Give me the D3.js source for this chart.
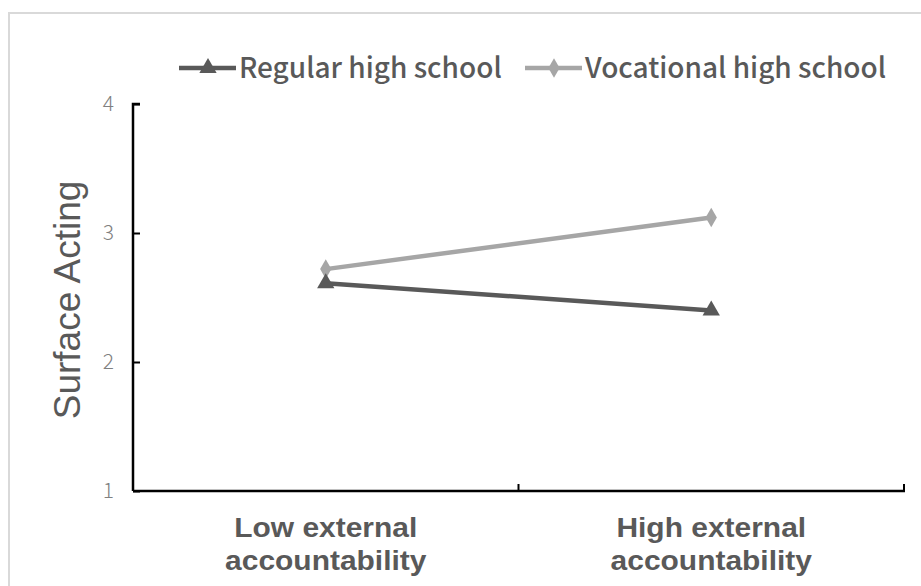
<!DOCTYPE html>
<html><head><meta charset="utf-8">
<script src="https://cdn.jsdelivr.net/npm/d3@7"></script>
<style>body{margin:0;background:#fff}svg{display:block}</style>
</head><body>
<script>
const categories = [["Low external","accountability"],["High external","accountability"]];
const seriesNames = ["Regular high school","Vocational high school"];
const regularValues = [2.61, 2.40];
const vocationalValues = [2.72, 3.12];
const yTicks = [1,2,3,4];
const yTitle = "Surface Acting";

const W=921,H=586;
const svg=d3.select("body").append("svg").attr("width",W).attr("height",H);
svg.append("rect").attr("x",9).attr("y",13).attr("width",W+10).attr("height",H+10)
  .attr("fill","none").attr("stroke","#d9d9d9").attr("stroke-width",2);

const FONT="'Noto Sans CJK SC','Noto Sans',sans-serif";
const x=d3.scaleBand().domain([0,1]).range([133,904]).paddingInner(0).paddingOuter(0);
const y=d3.scaleLinear().domain([1,4]).range([491,104]);

// y axis
const yAx=svg.append("g").attr("transform","translate(133,0)")
  .call(d3.axisLeft(y).tickValues(yTicks).tickSize(-7).tickPadding(19).tickFormat(d3.format("d")));
yAx.select(".domain").attr("d","M7,104H0V491").attr("stroke","#000").attr("stroke-width",2.5);
yAx.selectAll(".tick line").attr("stroke","#000").attr("stroke-width",2);
yAx.selectAll(".tick text").attr("fill","#808080").attr("font-family",FONT).attr("font-size",21).attr("font-weight",300);

// x axis
const xAx=svg.append("g").attr("transform","translate(0,491)");
xAx.append("line").attr("x1",133).attr("x2",x(1)+x.bandwidth()+1).attr("y1",0).attr("y2",0).attr("stroke","#000").attr("stroke-width",2.5);
[x(1), x(1)+x.bandwidth()].forEach(t=>{
  xAx.append("line").attr("x1",t).attr("x2",t).attr("y1",0).attr("y2",-7).attr("stroke","#000").attr("stroke-width",2);
});
categories.forEach((c,i)=>{
  c.forEach((l,j)=>xAx.append("text")
    .attr("transform",`translate(${x(i)+x.bandwidth()/2},${46+j*33}) scale(1.07,1)`).attr("text-anchor","middle")
    .attr("fill","#595959").attr("font-family","'Liberation Sans',Arial,sans-serif").attr("font-weight","bold").attr("font-size",28)
    .text(l));
});

// y title
svg.append("text").attr("transform","translate(80,300) rotate(-90)").attr("text-anchor","middle")
  .attr("fill","#595959").attr("font-family","'Liberation Sans'").attr("font-size",37).text(yTitle);

const cx=i=>x(i)+x.bandwidth()/2;
const line=d3.line().x((d,i)=>cx(i)).y(d=>y(d));
const colors=["#595959","#a6a6a6"];

svg.append("path").datum(vocationalValues).attr("d",line).attr("fill","none").attr("stroke",colors[1]).attr("stroke-width",4.5);
svg.append("path").datum(regularValues).attr("d",line).attr("fill","none").attr("stroke",colors[0]).attr("stroke-width",4.5);

const tri=d3.symbol().type(d3.symbolTriangle).size(130);
const dia=d3.symbol().type(d3.symbolDiamond).size(110);
svg.selectAll(".dv").data(vocationalValues).join("path").attr("d",dia)
  .attr("transform",(d,i)=>`translate(${cx(i)},${y(d)})`).attr("fill",colors[1]);
svg.selectAll(".tr").data(regularValues).join("path").attr("d",tri)
  .attr("transform",(d,i)=>`translate(${cx(i)},${y(d)})`).attr("fill",colors[0]);

// legend
const leg=svg.append("g");
const items=[{x:179,name:seriesNames[0],c:colors[0],s:tri},{x:525,name:seriesNames[1],c:colors[1],s:dia}];
items.forEach(it=>{
  leg.append("line").attr("x1",it.x).attr("x2",it.x+57).attr("y1",68).attr("y2",68).attr("stroke",it.c).attr("stroke-width",4.5);
  leg.append("path").attr("d",it.s).attr("transform",`translate(${it.x+29},68)`).attr("fill",it.c);
  leg.append("text").attr("x",it.x+60).attr("y",78).attr("fill","#595959")
    .attr("font-family",FONT).attr("font-weight",500).attr("font-size",28).text(it.name);
});
</script>
</body></html>
